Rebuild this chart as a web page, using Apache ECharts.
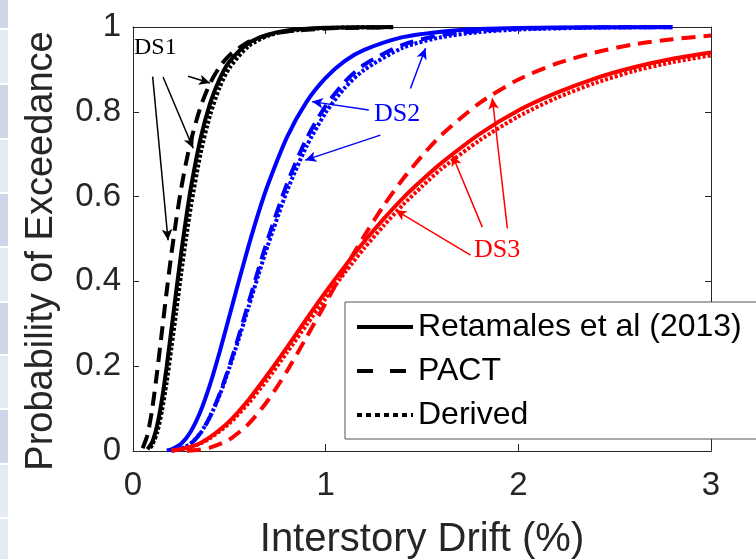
<!DOCTYPE html>
<html><head><meta charset="utf-8">
<script src="https://cdn.jsdelivr.net/npm/echarts@6/dist/echarts.min.js"></script>
<style>html,body{margin:0;padding:0;background:#fff}#c{width:756px;height:559px}</style>
</head><body><div id="c"></div>
<script>
// ---- data ----
const xTicks = [0, 1, 2, 3];
const yTicks = [0, 0.2, 0.4, 0.6, 0.8, 1];
const legendNames = ['Retamales et al (2013)', 'PACT', 'Derived'];

const blackSolidX = [0.075,0.1,0.125,0.15,0.175,0.2,0.225,0.25,0.275,0.3,0.35,0.4,0.45,0.5,0.6,0.7,0.8,1.0,1.2,1.35];
const blackSolidP = [0.004,0.021,0.060,0.121,0.200,0.289,0.379,0.467,0.547,0.620,0.736,0.820,0.878,0.918,0.962,0.982,0.992,0.998,0.9994,0.9998];
const blackPactX = [0.05,0.075,0.1,0.125,0.15,0.175,0.2,0.225,0.25,0.275,0.3,0.35,0.4,0.45,0.5,0.6,0.7,0.8,1.0,1.2,1.35];
const blackPactP = [0.0067,0.038,0.100,0.186,0.281,0.377,0.467,0.547,0.619,0.679,0.731,0.811,0.867,0.906,0.933,0.965,0.981,0.9895,0.9964,0.9987,0.9993];
const blackDerivedX = [0.09,0.1,0.125,0.15,0.175,0.2,0.225,0.25,0.275,0.3,0.35,0.4,0.45,0.5,0.6,0.7,0.8,1.0,1.2,1.35];
const blackDerivedP = [0.0076,0.014,0.043,0.094,0.163,0.245,0.331,0.418,0.5,0.575,0.700,0.792,0.858,0.903,0.955,0.979,0.990,0.9975,0.9993,0.9998];

const blueSolidX = [0.175,0.2,0.25,0.3,0.35,0.4,0.45,0.5,0.55,0.6,0.65,0.7,0.8,0.9,1.0,1.1,1.2,1.4,1.6,1.8,2.0,2.4,2.8];
const blueSolidP = [0.0015,0.004,0.017,0.046,0.093,0.157,0.234,0.318,0.402,0.484,0.560,0.628,0.741,0.823,0.880,0.920,0.946,0.976,0.989,0.995,0.9976,0.9994,0.9999];
const blueX = [0.2,0.25,0.3,0.35,0.4,0.45,0.5,0.55,0.6,0.65,0.7,0.8,0.9,1.0,1.1,1.2,1.4,1.6,1.8,2.0,2.4,2.8];
const bluePactP = [0.0009,0.005,0.017,0.042,0.081,0.135,0.200,0.273,0.350,0.427,0.5,0.631,0.736,0.814,0.871,0.911,0.958,0.981,0.991,0.9957,0.999,0.9997];
const blueDerivedP = [0.001,0.0055,0.018,0.042,0.081,0.132,0.196,0.266,0.340,0.414,0.485,0.614,0.718,0.798,0.857,0.899,0.951,0.976,0.988,0.994,0.9985,0.9996];

const redX = [0.2,0.25,0.3,0.35,0.4,0.5,0.6,0.7,0.8,0.9,1.0,1.1,1.2,1.3,1.4,1.5,1.6,1.8,2.0,2.2,2.4,2.6,2.8,3.0];
const redSolidP = [0.0013,0.0043,0.010,0.019,0.0325,0.070,0.121,0.181,0.245,0.311,0.375,0.436,0.494,0.547,0.596,0.639,0.679,0.748,0.803,0.845,0.879,0.905,0.925,0.940];
const redDerivedP = [0.0012,0.004,0.009,0.0175,0.030,0.065,0.113,0.170,0.233,0.297,0.360,0.421,0.478,0.531,0.580,0.624,0.665,0.733,0.789,0.833,0.868,0.896,0.917,0.933];
const redPactX = [0.28,0.3,0.35,0.4,0.5,0.6,0.7,0.8,0.9,1.0,1.1,1.2,1.3,1.4,1.5,1.6,1.8,2.0,2.2,2.4,2.6,2.8,3.0];
const redPactP = [0.0007,0.0011,0.0033,0.0077,0.027,0.064,0.119,0.189,0.268,0.349,0.431,0.507,0.578,0.641,0.696,0.745,0.821,0.876,0.914,0.940,0.959,0.971,0.980];

// annotation arrows [x1,y1,x2,y2] in data units
const ds1Arrows = [[0.102,0.883,0.182,0.497],[0.156,0.882,0.312,0.714],[0.286,0.884,0.40,0.868]];
const ds2Arrows = [[1.224,0.804,0.929,0.824],[1.284,0.745,0.894,0.686],[1.44,0.855,1.518,0.950]];
const ds3Arrows = [[1.752,0.462,1.362,0.568],[1.813,0.528,1.657,0.698],[1.943,0.525,1.865,0.832]];

// ---- build ----
const zip = (xs, ys) => xs.map((x, i) => [x, ys[i]]);
const LW = 4;
const styles = { solid: 'solid', pact: [14, 8], derived: [3, 2] };
const legendDash = ['solid', [16, 17], [5, 4]];
function arrows(list, color) {
  return {
    silent: true, symbol: ['none', 'arrow'], symbolSize: [8, 11], animation: false,
    label: { show: false },
    lineStyle: { color: color, width: 1.5, type: 'solid' },
    emphasis: { disabled: true },
    data: list.map(a => [{ coord: [a[0], a[1]] }, { coord: [a[2], a[3]] }])
  };
}
function line(name, data, color, type, marks) {
  const s = {
    name: name, type: 'line', data: data, symbol: 'none', smooth: 0.25,
    lineStyle: { color: color, width: LW, type: type, cap: 'butt' },
    itemStyle: { color: color },
    emphasis: { disabled: true }, animation: false, z: 3
  };
  if (marks) s.markLine = marks;
  return s;
}
const series = [
  line(legendNames[0], zip(blackSolidX, blackSolidP), '#000000', styles.solid, arrows(ds1Arrows, '#000000')),
  line(legendNames[1], zip(blackPactX, blackPactP), '#000000', styles.pact),
  line(legendNames[2], zip(blackDerivedX, blackDerivedP), '#000000', styles.derived),
  line('DS2 Retamales', zip(blueSolidX, blueSolidP), '#0000ff', styles.solid, arrows(ds2Arrows, '#0000ff')),
  line('DS2 PACT', zip(blueX, bluePactP), '#0000ff', styles.pact),
  line('DS2 Derived', zip(blueX, blueDerivedP), '#0000ff', styles.derived),
  line('DS3 Retamales', zip(redX, redSolidP), '#ff0000', styles.solid, arrows(ds3Arrows, '#ff0000')),
  line('DS3 PACT', zip(redPactX, redPactP), '#ff0000', styles.pact),
  line('DS3 Derived', zip(redX, redDerivedP), '#ff0000', styles.derived)
];

const strip = [[0,28,'#cfd6e7'],[30,53,'#e6eaf4'],[85,53,'#cfd6e7'],[140,52,'#e6eaf4'],[194,52,'#cfd6e7'],[248,53,'#e6eaf4'],[303,51,'#cfd6e7'],[356,52,'#e6eaf4'],[410,53,'#cfd6e7'],[465,52,'#e6eaf4'],[519,40,'#e6eaf4']];

const axisCol = '#262626';
const font = 'Liberation Sans, Arial, Helvetica, sans-serif';
const serif = 'Liberation Serif, Times New Roman, serif';

const chart = echarts.init(document.getElementById('c'), null, { renderer: 'canvas' });
chart.setOption({
  backgroundColor: '#ffffff',
  animation: false,
  grid: { left: 133, right: 45, top: 27, bottom: 108, containLabel: false, outerBoundsMode: 'none' },
  xAxis: [{
    type: 'value', min: xTicks[0], max: xTicks[xTicks.length - 1], interval: 1,
    name: 'Interstory Drift (%)', nameLocation: 'middle', nameGap: 69,
    nameTextStyle: { fontSize: 40, color: axisCol, fontFamily: font },
    axisLine: { show: true, lineStyle: { color: axisCol, width: 1 } },
    axisTick: { show: true, inside: true, length: 7, lineStyle: { color: axisCol } },
    axisLabel: { fontSize: 33, color: axisCol, fontFamily: font, margin: 18 },
    splitLine: { show: false }
  }, {
    type: 'value', position: 'top', min: xTicks[0], max: xTicks[xTicks.length - 1], interval: 1,
    axisLine: { show: true, onZero: false, lineStyle: { color: axisCol, width: 1 } },
    axisTick: { show: true, inside: true, length: 7, lineStyle: { color: axisCol } },
    axisLabel: { show: false }, splitLine: { show: false }
  }],
  yAxis: [{
    type: 'value', min: yTicks[0], max: yTicks[yTicks.length - 1], interval: 0.2,
    name: 'Probability of Exceedance', nameLocation: 'middle', nameGap: 72,
    nameTextStyle: { fontSize: 38, color: axisCol, fontFamily: font, padding: [0, 24, 0, 0] },
    axisLine: { show: true, lineStyle: { color: axisCol, width: 1 } },
    axisTick: { show: true, inside: true, length: 6, lineStyle: { color: axisCol } },
    axisLabel: { fontSize: 33, color: axisCol, fontFamily: font, margin: 12 },
    splitLine: { show: false }
  }, {
    type: 'value', position: 'right', min: yTicks[0], max: yTicks[yTicks.length - 1], interval: 0.2,
    axisLine: { show: true, onZero: false, lineStyle: { color: axisCol, width: 1 } },
    axisTick: { show: true, inside: true, length: 6, lineStyle: { color: axisCol } },
    axisLabel: { show: false }, splitLine: { show: false }
  }],
  legend: {
    data: legendNames.map((n, i) => ({ name: n, lineStyle: { width: 4, type: legendDash[i], color: '#000000' } })),
    orient: 'vertical', left: 345, top: 302,
    padding: [9, 40, 8, 10], itemWidth: 56, itemHeight: 14, itemGap: 12,
    backgroundColor: '#ffffff', borderColor: '#555555', borderWidth: 1,
    selectedMode: false,
    itemStyle: { opacity: 0, borderWidth: 0 },
    textStyle: { fontSize: 32, lineHeight: 32, color: '#000000', fontFamily: font }
  },
  graphic: [
    ...strip.map(s => ({ type: 'rect', shape: { x: 0, y: s[0], width: 8, height: s[1] }, style: { fill: s[2] }, silent: true })),
    { type: 'text', left: 134, top: 36, style: { text: 'DS1', font: '24px ' + serif, fill: '#000000' }, silent: true },
    { type: 'text', left: 374, top: 101, style: { text: 'DS2', font: '26px ' + serif, fill: '#0000ff' }, silent: true },
    { type: 'text', left: 474, top: 237, style: { text: 'DS3', font: '26px ' + serif, fill: '#ff0000' }, silent: true }
  ],
  series: series
});
</script></body></html>
